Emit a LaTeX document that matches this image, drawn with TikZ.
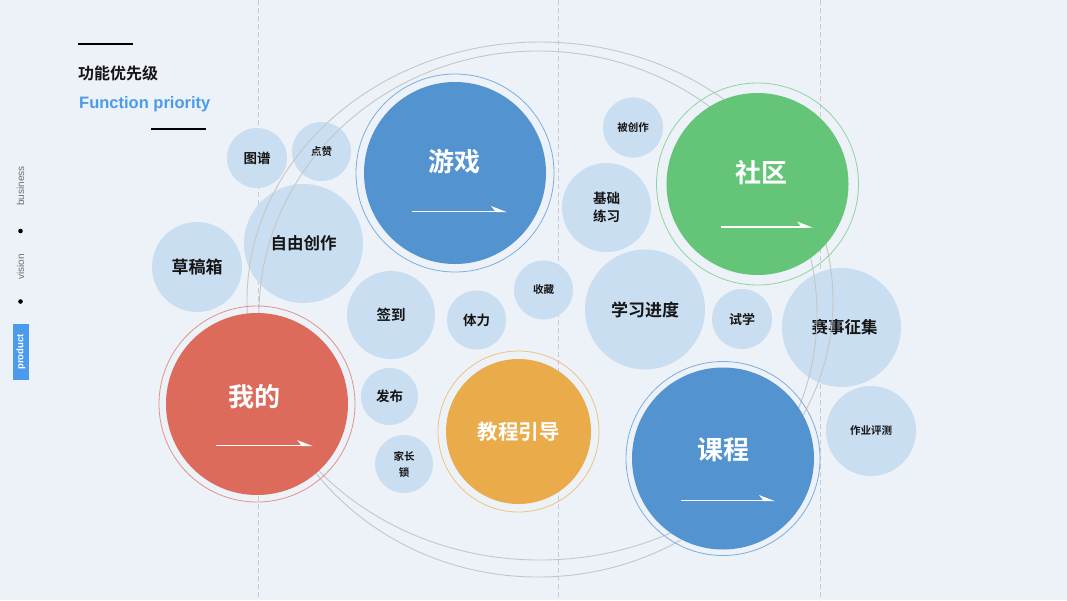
\documentclass[tikz,border=0pt]{standalone}
\usepackage{fontspec}
\setmainfont{Noto Sans CJK SC}[BoldFont={Noto Sans CJK SC Bold}]
\newfontfamily\latinsans{Liberation Sans}
\definecolor{bgc}{HTML}{EDF1F8}
\definecolor{lightc}{HTML}{CADEF1}
\definecolor{inkc}{HTML}{151515}
\definecolor{redc}{HTML}{DC6B5B}
\definecolor{redring}{HTML}{E39488}
\definecolor{bluec}{HTML}{5394D0}
\definecolor{bluering}{HTML}{7DAEDF}
\definecolor{greenc}{HTML}{64C579}
\definecolor{greenring}{HTML}{8FD5A0}
\definecolor{orangec}{HTML}{EAAC4B}
\definecolor{orangering}{HTML}{EFC37E}
\definecolor{dashc}{HTML}{C6CBD4}
\definecolor{curvec}{HTML}{C6C6C6}
\definecolor{titleblue}{HTML}{4A9BEA}
\definecolor{sidegrey}{HTML}{6E6E6E}
\definecolor{prodblue}{HTML}{4A9BEE}
\newcommand\whitearrow[3]{%
  \draw[white, line width=1.3pt] (#1,#3) -- (#2-4,#3);
  \fill[white] (#2,#3+0.7) -- (#2-16,#3-5.5) -- (#2-11,#3+0.7) -- cycle;}
\begin{document}
\begin{tikzpicture}[x=1pt,y=-1pt,
  bub/.style={circle, fill=lightc, inner sep=0pt, text=inkc, align=center},
  big/.style={circle, fill=#1, inner sep=0pt, text=white, align=center},
  ring/.style={draw=#1, line width=0.8pt},
  fs/.style={font=\bfseries\fontsize{#1}{#1}\selectfont},
  dashline/.style={draw=dashc, line width=0.9pt, dash pattern=on 5pt off 3pt},
  curve/.style={draw=curvec, line width=0.9pt},
  sidetext/.style={rotate=90, text=sidegrey, font=\latinsans\fontsize{10}{10}\selectfont, inner sep=0pt}]
\useasboundingbox (0,0) rectangle (1067,600);
\fill[bgc] (0,0) rectangle (1067,600);
% vertical dashed guides
\coordinate (g1t) at (258,0); \coordinate (g1b) at (258,600);
\coordinate (g2t) at (558,0); \coordinate (g2b) at (558,600);
\coordinate (g3t) at (820,0); \coordinate (g3b) at (820,600);
\draw[dashline] (g1t) -- (g1b);
\draw[dashline] (g2t) -- (g2b);
\draw[dashline] (g3t) -- (g3b);
% light bubbles
\node[bub, minimum size=60pt, fs=13.5] (tupu) at (257,158) {图谱};
\node[bub, minimum size=59pt, fs=10.5] (dianzan) at (321.5,151.5) {点赞};
\node[bub, minimum size=119pt, fs=16.5] (ziyou) at (303.5,243.5) {自由创作};
\node[bub, minimum size=90pt, fs=17] (caogao) at (197,267) {草稿箱};
\node[bub, minimum size=88pt, fs=14.5] (qiandao) at (391,315) {签到};
\node[bub, minimum size=59pt, fs=13.5] (tili) at (476.5,320) {体力};
\node[bub, minimum size=59pt, fs=10.5] (shoucang) at (543.5,290) {收藏};
\node[bub, minimum size=57pt, fs=13.5] (fabu) at (389.5,396.5) {发布};
\node[bub, minimum size=58pt, font=\bfseries\fontsize{10.5}{16}\selectfont] (jiazhang) at (404,464) {家长\\锁};
\node[bub, minimum size=60pt, fs=10.5] (beichuang) at (633,127.5) {被创作};
\node[bub, minimum size=89pt, font=\bfseries\fontsize{13.5}{18}\selectfont] (jichu) at (606.5,207.5) {基础\\练习};
\node[bub, minimum size=120pt, fs=17] (xuexi) at (645,309.5) {学习进度};
\node[bub, minimum size=60pt, fs=13] (shixue) at (742,319) {试学};
\node[bub, minimum size=119pt, fs=16.5] (saishi) at (841.5,327.5) {\hspace*{6pt}赛事征集};
\node[bub, minimum size=90pt, fs=10.5] (zuoye) at (871,431) {作业评测};
% grey orbit curves
\draw[curve] (540,301) ellipse [x radius=293, y radius=259];
\draw[curve] (538,314) ellipse [x radius=279, y radius=263];
% big bubbles with rings
\node[big=redc, minimum size=182pt] (wode) at (257,404) {};
\draw[ring=redring] (wode.center) circle [radius=98];
\node[big=bluec, minimum size=182pt] (youxi) at (455,173) {};
\draw[ring=bluering] (youxi.center) circle [radius=99];
\node[big=greenc, minimum size=182pt] (shequ) at (757.5,184) {};
\draw[ring=greenring] (shequ.center) circle [radius=101];
\node[big=bluec, minimum size=182pt] (kecheng) at (723,458.5) {};
\draw[ring=bluering] (kecheng.center) circle [radius=97];
\node[big=orangec, minimum size=145pt, fs=20.5] (jiaocheng) at (518.5,431.5) {教程引导};
\draw[ring=orangering] (jiaocheng.center) circle [radius=80.5];
% big labels
\node[text=white, fs=26, inner sep=0pt] (wodet) at (254,397) {我的};
\node[text=white, fs=26, inner sep=0pt] (youxit) at (454,162) {游戏};
\node[text=white, fs=26, inner sep=0pt] (shequt) at (761,173) {社区};
\node[text=white, fs=26, inner sep=0pt] (kechengt) at (723,450) {课程};
% white arrows
\whitearrow{216}{313}{445.5}
\whitearrow{412}{507}{211.5}
\whitearrow{721}{813}{227}
\whitearrow{681}{775}{500.5}
% title block
\coordinate (t1a) at (78,44); \coordinate (t1b) at (133,44);
\coordinate (t2a) at (151,128.5); \coordinate (t2b) at (206,128.5);
\draw[black, line width=2pt] (t1a) -- (t1b);
\draw[black, line width=2pt] (t2a) -- (t2b);
\node[anchor=west, inner sep=0pt, fs=16, text=inkc] (title) at (78,73) {功能优先级};
\node[anchor=west, inner sep=0pt, text=titleblue, font=\latinsans\bfseries\fontsize{16.5}{16.5}\selectfont] (subtitle) at (79,104) {Function priority};
% sidebar
\node[sidetext] (business) at (20.5,186) {business};
\fill[black] (20.5,231) circle [radius=2.3];
\fill[black] (20.5,301.5) circle [radius=2.3];
\node[sidetext] (vision) at (20.5,267) {vision};
\fill[prodblue] (12.5,324) rectangle (29,379.5);
\node[rotate=90, text=white, inner sep=0pt, font=\latinsans\bfseries\fontsize{9.5}{9.5}\selectfont] (product) at (20.8,352) {product};
\end{tikzpicture}
\end{document}
